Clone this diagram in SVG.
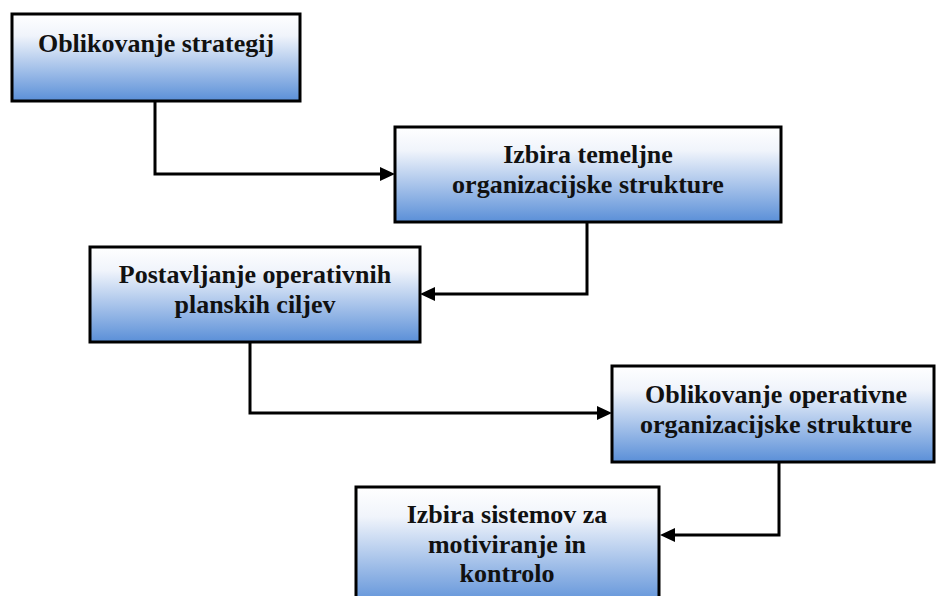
<svg xmlns="http://www.w3.org/2000/svg" width="936" height="596" viewBox="0 0 936 596">
<defs>
<linearGradient id="g" x1="0" y1="0" x2="0" y2="1">
<stop offset="0" stop-color="#ffffff"/>
<stop offset="0.25" stop-color="#f0f4fb"/>
<stop offset="1" stop-color="#5a8fd8"/>
</linearGradient>
<style>
.box{fill:url(#g);stroke:#000;stroke-width:3}
.t{font-family:"Liberation Serif","Times New Roman",serif;font-weight:bold;font-size:26px;fill:#111;text-anchor:middle}
.c{fill:none;stroke:#000;stroke-width:3}
.a{fill:#000}
</style>
</defs>
<g id="connectors">
<path class="c" d="M155,101 V174 H381"/>
<path class="a" d="M380,167 L395,174 L380,181 z"/>
<path class="c" d="M587,222 V294 H434"/>
<path class="a" d="M435,287 L420,294 L435,301 z"/>
<path class="c" d="M250,342 V413 H598"/>
<path class="a" d="M597,406 L612,413 L597,420 z"/>
<path class="c" d="M779,462 V535 H674"/>
<path class="a" d="M675,528 L660,535 L675,542 z"/>
</g>
<g id="n1">
<rect class="box" x="12" y="14" width="288" height="87"/>
<text class="t" x="156" y="52">Oblikovanje strategij</text>
</g>
<g id="n2">
<rect class="box" x="395" y="127" width="386" height="95"/>
<text class="t" x="588" y="163">Izbira temeljne</text>
<text class="t" x="588" y="193">organizacijske strukture</text>
</g>
<g id="n3">
<rect class="box" x="90" y="247" width="330" height="95"/>
<text class="t" x="255" y="283">Postavljanje operativnih</text>
<text class="t" x="255" y="313">planskih ciljev</text>
</g>
<g id="n4">
<rect class="box" x="612" y="366" width="322" height="96"/>
<text class="t" x="776" y="403" textLength="262" lengthAdjust="spacingAndGlyphs">Oblikovanje operativne</text>
<text class="t" x="776" y="433" textLength="272" lengthAdjust="spacingAndGlyphs">organizacijske strukture</text>
</g>
<g id="n5">
<rect class="box" x="356" y="487" width="303" height="120"/>
<text class="t" x="507" y="523">Izbira sistemov za</text>
<text class="t" x="507" y="553">motiviranje in</text>
<text class="t" x="507" y="582">kontrolo</text>
</g>
</svg>
